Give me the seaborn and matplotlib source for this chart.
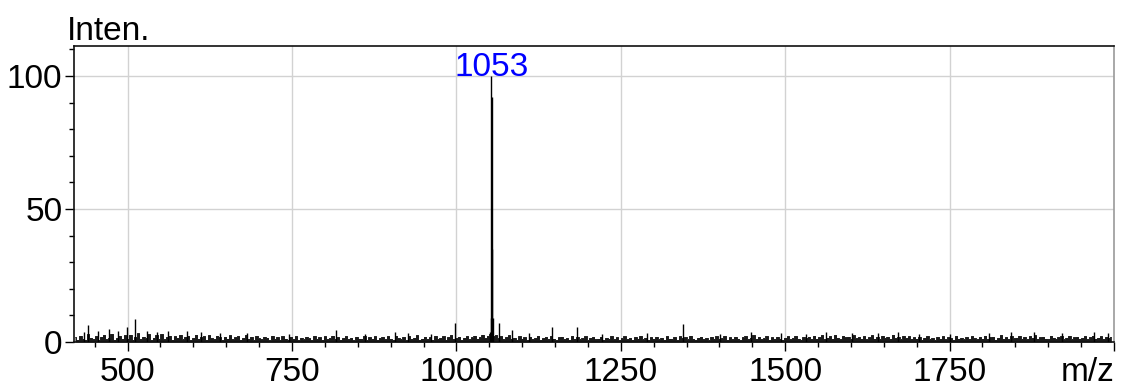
import numpy as np
import pandas as pd
import matplotlib
matplotlib.use("Agg")
import matplotlib.pyplot as plt
from matplotlib.ticker import MultipleLocator, FixedLocator
import seaborn as sns

# Baseline noise of the spectrum, sampled every 4 m/z from 420 to 1996
noise_start = 420
noise_step = 4
noise_int = [
    1.8, 0.9, 2.4, 1.2, 0.7, 2.9, 1.5, 1.1, 2.2, 0.8, 1.9, 2.7, 1.0, 1.6, 3.1, 0.9, 1.4, 2.3, 1.2, 2.6,
    1.3, 2.8, 0.9, 1.7, 3.2, 1.1, 2.0, 1.4, 2.9, 0.8, 1.6, 2.5, 1.2, 3.0, 1.0, 1.8, 2.4, 0.9, 2.1, 1.5,
    2.7, 1.0, 1.9, 2.3, 0.8, 1.5, 2.8, 1.2, 1.7, 2.2, 0.9, 2.6, 1.4, 1.1, 2.4, 1.8, 0.8, 2.0, 1.3, 2.5,
    1.0, 1.7, 2.2, 0.9, 1.5, 2.6, 1.1, 1.9, 0.8, 2.3, 1.4, 1.0, 2.0, 1.6, 0.7, 2.4, 1.2, 1.8, 0.9, 2.1,
    1.3, 0.8, 1.9, 1.1, 2.2, 0.7, 1.6, 1.0, 2.0, 1.4, 0.8, 2.3, 1.2, 1.7, 0.9, 2.1, 1.0, 1.5, 2.4, 1.1,
    1.8, 0.9, 1.4, 2.2, 1.0, 1.6, 0.7, 2.0, 1.3, 1.1, 2.3, 0.8, 1.7, 1.2, 2.1, 0.9, 1.5, 1.9, 1.0, 2.2,
    1.2, 0.8, 2.4, 1.4, 1.0, 1.9, 0.7, 2.2, 1.1, 1.6, 2.6, 0.9, 1.3, 2.0, 1.0, 1.7, 0.8, 2.3, 1.2, 1.5,
    2.1, 0.9, 1.8, 2.6, 1.1, 1.4, 2.0, 0.8, 1.6, 2.2, 1.0, 1.7, 2.4, 1.3, 1.9, 2.8, 1.5, 2.3, 3.0, 2.1,
    2.6, 1.4, 2.2, 1.0, 1.8, 2.5, 1.2, 1.6, 0.9, 2.1, 1.3, 1.7, 0.8, 2.0, 1.1, 1.5, 2.3, 0.9, 1.4, 1.9,
    1.0, 2.2, 1.3, 0.8, 1.7, 2.0, 1.1, 1.5, 0.9, 2.3, 1.2, 1.8, 1.0, 1.4, 2.1, 0.8, 1.6, 1.9, 1.1, 1.3,
    2.0, 0.9, 1.5, 1.2, 2.2, 1.0, 1.7, 0.8, 1.4, 2.1, 1.1, 1.6, 0.9, 1.9, 1.3, 2.3, 1.0, 1.5, 0.8, 1.8,
    1.2, 2.0, 1.0, 1.6, 0.9, 2.2, 1.3, 1.1, 1.8, 0.8, 2.1, 1.4, 1.7, 1.0, 2.4, 1.2, 0.9, 1.6, 2.0, 1.1,
    1.5, 0.8, 1.9, 1.2, 2.1, 1.0, 1.4, 2.3, 0.9, 1.7, 1.1, 2.0, 1.3, 0.8, 1.8, 2.2, 1.0, 1.6, 2.5, 1.2,
    1.9, 1.0, 1.4, 2.2, 0.9, 1.7, 1.1, 2.0, 1.3, 0.8, 1.6, 2.1, 1.0, 1.5, 2.3, 1.2, 0.9, 1.8, 1.4, 2.0,
    1.1, 2.4, 1.3, 1.8, 2.6, 1.0, 1.6, 2.2, 1.2, 2.7, 1.5, 1.0, 2.3, 1.7, 2.0, 1.1, 2.5, 1.4, 1.9, 1.2,
    2.2, 1.0, 1.7, 2.5, 1.3, 1.9, 1.1, 2.4, 1.6, 2.0, 1.2, 2.8, 1.4, 1.8, 1.0, 2.3, 1.5, 2.1, 1.1, 1.7,
    1.3, 2.0, 0.9, 1.6, 2.2, 1.1, 1.5, 0.8, 1.9, 1.2, 2.1, 1.0, 1.7, 1.4, 0.9, 2.3, 1.2, 1.6, 1.0, 1.8,
    1.1, 2.2, 1.4, 1.0, 1.9, 1.3, 2.4, 1.1, 1.7, 2.0, 0.9, 1.5, 2.6, 1.2, 1.8, 1.0, 2.1, 1.4, 1.6, 2.3,
    1.2, 1.9, 1.0, 2.2, 1.5, 2.5, 1.1, 1.7, 2.0, 1.3, 1.0, 2.4, 1.6, 1.2, 1.8, 2.1, 1.0, 1.5, 2.3, 1.1,
    1.7, 2.0, 1.2, 1.5, 2.2, 1.0, 1.8, 2.4, 1.3, 1.6, 2.1, 1.1, 1.9, 1.4, 2.0,
]

# Isolated small peaks standing out of the noise
spike_mz = [433, 440, 455, 471, 485, 499, 512, 530, 545, 561, 590, 611, 641, 681,
            745, 817, 861, 906, 926, 961, 998,
            1085, 1110, 1146, 1184, 1221, 1290, 1345, 1401, 1448, 1494, 1531, 1562,
            1601, 1641, 1672, 1703, 1751, 1810, 1843, 1879, 1921, 1969, 1991]
spike_int = [3.6, 6.4, 4.2, 4.9, 4.0, 5.8, 8.5, 4.1, 3.6, 4.3, 4.0, 3.6, 3.5, 3.4,
             3.1, 4.5, 3.1, 3.9, 3.5, 3.1, 7.0,
             4.5, 3.5, 5.8, 5.8, 3.1, 3.2, 6.8, 3.1, 3.9, 3.2, 3.1, 3.6,
             3.5, 3.4, 3.8, 3.1, 3.1, 3.5, 3.9, 3.6, 3.4, 3.9, 3.2]

# Base peak cluster
peak_mz = [1051.5, 1052.4, 1053.0, 1053.5, 1054.4, 1055.6, 1065.5]
peak_int = [3.7, 9.0, 100.0, 92.0, 35.0, 9.0, 7.3]

base_peak_label = "1053"
base_peak_mz = 1053.0
base_peak_int = 100.0

x_ticks = [500, 750, 1000, 1250, 1500, 1750, 2000]
x_tick_labels = ["500", "750", "1000", "1250", "1500", "1750", "m/z"]
y_ticks = [0, 50, 100]

sns.set_style("white")
plt.rcParams["font.family"] = ["Liberation Sans", "DejaVu Sans"]

noise_mz = noise_start + noise_step * np.arange(len(noise_int))
noise_df = pd.DataFrame({"mz": noise_mz, "intensity": noise_int})

fig = plt.figure(figsize=(11.22, 3.87), dpi=100)
ax = fig.add_axes([74 / 1122, 1 - 342 / 387, (1114 - 74) / 1122, (342 - 46) / 387])

ax.set_xlim(418.5, 2000)
ax.set_ylim(0, 111.3)

# grid
for xv in x_ticks[:-1]:
    ax.axvline(xv, color="#d2d2d2", lw=1.0, zorder=0)
for yv in y_ticks[1:]:
    ax.axhline(yv, color="#d2d2d2", lw=1.0, zorder=0)

# noise profile
sns.lineplot(data=noise_df, x="mz", y="intensity", ax=ax, color="black",
             lw=0.6, drawstyle="steps-mid", estimator=None, zorder=2)
ax.fill_between(noise_df["mz"], 0, noise_df["intensity"], step="mid",
                color="#1a1a1a", lw=0, zorder=2)

# sticks
ax.vlines(spike_mz, 0, spike_int, color="black", lw=1.0, zorder=3)
ax.vlines(peak_mz, 0, peak_int, color="black", lw=1.0, zorder=3)

ax.text(base_peak_mz, base_peak_int, base_peak_label, color="#0000ff",
        fontsize=24, ha="center", va="baseline", zorder=4)

ax.set_xlabel("")
ax.set_ylabel("")

ax.xaxis.set_major_locator(FixedLocator(x_ticks))
ax.set_xticklabels(x_tick_labels)
ax.get_xticklabels()[-1].set_horizontalalignment("right")
ax.xaxis.set_minor_locator(MultipleLocator(50))
ax.yaxis.set_major_locator(FixedLocator(y_ticks))
ax.yaxis.set_minor_locator(MultipleLocator(10))

ax.tick_params(axis="both", which="major", direction="out", length=6.3,
               width=1.0, color="black", labelcolor="black", labelsize=24,
               bottom=True, left=True)
ax.tick_params(axis="both", which="minor", direction="out", length=3.4,
               width=1.0, color="black", bottom=True, left=True)
ax.tick_params(axis="x", which="major", pad=4.5)
ax.tick_params(axis="y", which="major", pad=2.0)

for side in ["left", "bottom", "top"]:
    ax.spines[side].set_color("#111111")
    ax.spines[side].set_linewidth(1.2)
ax.spines["right"].set_color("#9a9a9a")
ax.spines["right"].set_linewidth(1.2)

fig.text(67 / 1122, 1 - 40 / 387, "Inten.", fontsize=24, ha="left",
         va="baseline", color="black")

fig.savefig("out.png", dpi=100)
